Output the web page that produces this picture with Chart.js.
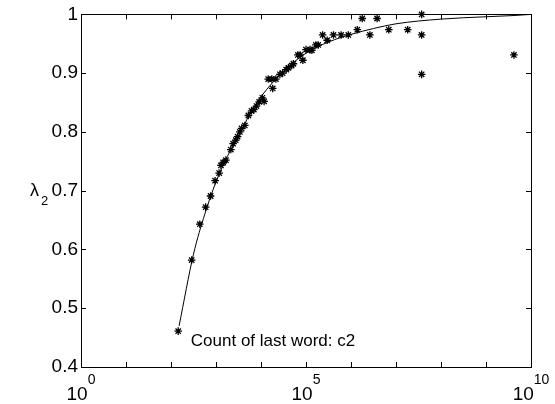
<!DOCTYPE html>
<html><head><meta charset="utf-8">
<script src="https://cdn.jsdelivr.net/npm/chart.js@4/dist/chart.umd.min.js"></script>
<style>html,body{margin:0;padding:0;background:#fff}#wrap{width:555px;height:404px}</style>
</head><body><div id="wrap"><canvas id="c" width="555" height="404"></canvas></div>
<script>
// log10 of the count of the last word, and the measured lambda_2
const countExp = [2.16,2.46,2.64,2.77,2.88,2.98,3.07,3.11,3.16,3.22,3.33,3.38,3.44,3.48,3.53,3.57,3.64,3.72,3.79,3.84,3.90,3.96,4.03,4.07,4.16,4.24,4.26,4.33,4.42,4.48,4.56,4.61,4.68,4.72,4.82,4.87,4.93,5.00,5.09,5.13,5.22,5.27,5.37,5.47,5.61,5.78,5.94,6.14,6.25,6.42,6.58,6.84,7.26,7.57,7.57,7.57,9.62];
const lambda2  = [0.461,0.582,0.643,0.672,0.691,0.717,0.730,0.743,0.748,0.752,0.770,0.780,0.786,0.792,0.800,0.806,0.811,0.828,0.836,0.838,0.844,0.851,0.858,0.852,0.890,0.890,0.874,0.890,0.898,0.900,0.906,0.909,0.913,0.916,0.931,0.931,0.922,0.940,0.940,0.939,0.948,0.948,0.965,0.956,0.965,0.965,0.965,0.974,0.993,0.965,0.993,0.974,0.974,1.000,0.965,0.898,0.931];
// fitted curve
const fitExp    = [2.18,2.5,2.75,3.0,3.25,3.5,3.75,4.0,4.5,5.0,5.5,6.0,6.5,7.0,8.0,9.0,9.6,10];
const fitLambda = [0.470,0.592,0.660,0.715,0.758,0.793,0.830,0.860,0.903,0.934,0.953,0.966,0.976,0.984,0.992,0.996,0.998,1.0];
const xTickExp = [0,1,2,3,4,5,6,7,8,9,10];
const xLabelExp = [0,5,10];
const yTicks = [0.4,0.5,0.6,0.7,0.8,0.9,1.0];
const annotationText = 'Count of last word: c2';

const FONT = "'Liberation Sans', Arial, Helvetica, sans-serif";

const framePlugin = {
  id: 'frame',
  afterDraw(chart) {
    const ctx = chart.ctx, a = chart.chartArea;
    const xs = chart.scales.x, ys = chart.scales.y;
    ctx.save();
    ctx.strokeStyle = '#000';
    ctx.lineWidth = 1;
    ctx.strokeRect(Math.round(a.left) + 0.5, Math.round(a.top) + 0.5, Math.round(a.right - a.left), Math.round(a.bottom - a.top));
    ctx.beginPath();
    xTickExp.forEach(e => {
      const px = Math.round(xs.getPixelForValue(Math.pow(10, e))) + 0.5;
      ctx.moveTo(px, a.bottom); ctx.lineTo(px, a.bottom - 5);
      ctx.moveTo(px, a.top); ctx.lineTo(px, a.top + 5);
    });
    yTicks.forEach(v => {
      const py = Math.round(ys.getPixelForValue(v)) + 0.5;
      ctx.moveTo(a.left, py); ctx.lineTo(a.left + 5, py);
      ctx.moveTo(a.right, py); ctx.lineTo(a.right - 5, py);
    });
    ctx.stroke();
    // x tick labels with superscript exponents
    ctx.fillStyle = '#000';
    ctx.textBaseline = 'alphabetic';
    ctx.textAlign = 'left';
    xLabelExp.forEach(e => {
      const px = xs.getPixelForValue(Math.pow(10, e));
      ctx.font = '19px ' + FONT;
      const wb = ctx.measureText('10').width;
      ctx.font = '14px ' + FONT;
      const we = ctx.measureText(String(e)).width;
      const x0 = px - (wb + we) / 2;
      ctx.font = '19px ' + FONT;
      ctx.fillText('10', x0, 400);
      ctx.font = '14px ' + FONT;
      ctx.fillText(String(e), x0 + wb, 384);
    });
    // y axis label
    ctx.font = '18px ' + FONT;
    ctx.fillText('\u03bb', 30, 196);
    ctx.font = '13px ' + FONT;
    ctx.fillText('2', 41, 205);
    // annotation
    ctx.font = '17px ' + FONT;
    ctx.textBaseline = 'middle';
    ctx.fillText(annotationText, xs.getPixelForValue(Math.pow(10, 2.44)), ys.getPixelForValue(0.444));
    ctx.restore();
  }
};

new Chart(document.getElementById('c'), {
  type: 'scatter',
  data: {
    datasets: [
      {
        data: fitExp.map((e, i) => ({x: Math.pow(10, e), y: fitLambda[i]})),
        showLine: true, borderColor: '#000', borderWidth: 1, pointRadius: 0,
        cubicInterpolationMode: 'monotone', fill: false
      },
      {
        data: countExp.map((e, i) => ({x: Math.pow(10, e), y: lambda2[i]})),
        showLine: false, pointStyle: 'star', pointRadius: 3.8,
        borderColor: '#000', backgroundColor: '#000', borderWidth: 1.3, clip: false
      }
    ]
  },
  options: {
    responsive: false, animation: false,
    layout: {padding: {top: 14, right: 24, left: 0, bottom: 0}},
    plugins: {legend: {display: false}, tooltip: {enabled: false}},
    scales: {
      x: {
        type: 'logarithmic', min: 1, max: 1e10,
        ticks: {display: false},
        grid: {display: false, drawTicks: false},
        border: {display: false},
        afterFit: s => { s.height = 37; }
      },
      y: {
        type: 'linear', min: 0.4, max: 1,
        ticks: {
          stepSize: 0.1, padding: 3, color: '#000',
          font: {family: FONT, size: 19},
          callback: v => String(Number(v.toFixed(1)))
        },
        grid: {display: false, drawTicks: false},
        border: {display: false},
        afterFit: s => { s.width = 81; }
      }
    }
  },
  plugins: [framePlugin]
});
</script>
</body></html>
